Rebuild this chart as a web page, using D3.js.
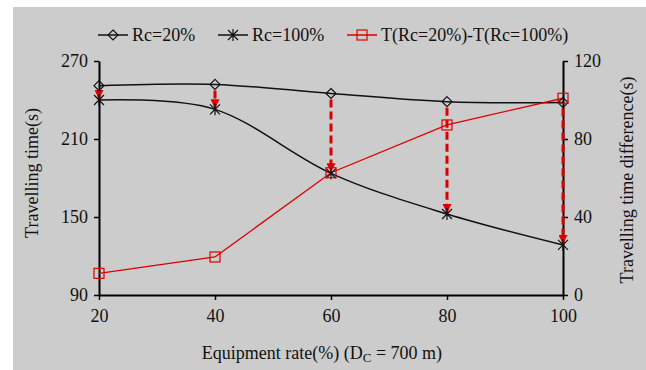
<!DOCTYPE html>
<html>
<head>
<meta charset="utf-8">
<script src="https://cdn.jsdelivr.net/npm/d3@7"></script>
<style>
  html, body { margin: 0; padding: 0; background: #fff; }
  svg { display: block; }
  svg text { font-family: "Liberation Serif", "Times New Roman", "DejaVu Serif", serif; }
</style>
</head>
<body>
<div id="chart"></div>
<script>
// data
const rates = [20, 40, 60, 80, 100];
const rc20 = [251, 252, 245, 238.7, 238];
const rc100 = [240, 232.8, 183.6, 152.3, 128.5];
const diff = [11.1, 19.5, 62.7, 87.2, 100.9];
const leftTicks = [90, 150, 210, 270];
const rightTicks = [0, 40, 80, 120];

const width = 646, height = 370;
const margin = { left: 99, right: 83, top: 61, bottom: 75 };
const red = "#dd0000";
const serif = '"Liberation Serif", "Times New Roman", serif';

const svg = d3.select("#chart").append("svg")
  .attr("width", width)
  .attr("height", height);

svg.append("rect")
  .attr("x", 13).attr("y", 7)
  .attr("width", width - 13).attr("height", height - 7)
  .attr("fill", "#cccccc");

const x = d3.scaleLinear().domain([20, 100]).range([margin.left, width - margin.right]);
const yL = d3.scaleLinear().domain([90, 270]).range([height - margin.bottom, margin.top]);
const yR = d3.scaleLinear().domain([0, 120]).range([height - margin.bottom, margin.top]);

function styleAxis(g) {
  g.selectAll(".domain").attr("stroke", "#000").attr("stroke-width", 2);
  g.selectAll(".tick line").attr("stroke", "#000").attr("stroke-width", 1.5);
  g.selectAll(".tick text")
    .attr("font-family", serif)
    .attr("font-size", "18px")
    .attr("fill", "#111");
}

const xAxis = svg.append("g")
  .attr("transform", `translate(0,${height - margin.bottom})`)
  .call(d3.axisBottom(x).tickValues(rates).tickSizeInner(5).tickSizeOuter(0).tickPadding(9));
styleAxis(xAxis);

const leftAxis = svg.append("g")
  .attr("transform", `translate(${margin.left},0)`)
  .call(d3.axisLeft(yL).tickValues(leftTicks).tickSizeInner(5).tickSizeOuter(0).tickPadding(6));
styleAxis(leftAxis);

const rightAxis = svg.append("g")
  .attr("transform", `translate(${width - margin.right},0)`)
  .call(d3.axisRight(yR).tickValues(rightTicks).tickSizeInner(5).tickSizeOuter(0).tickPadding(6));
styleAxis(rightAxis);

// axis titles
svg.append("text")
  .attr("transform", `translate(38,173) rotate(-90)`)
  .attr("text-anchor", "middle")
  .attr("font-family", serif)
  .attr("font-size", "18px")
  .attr("fill", "#111")
  .text("Travelling time(s)");

svg.append("text")
  .attr("transform", `translate(633,180) rotate(-90)`)
  .attr("text-anchor", "middle")
  .attr("font-family", serif)
  .attr("font-size", "18px")
  .attr("fill", "#111")
  .text("Travelling time difference(s)");

const xt = svg.append("text")
  .attr("x", 322).attr("y", 359)
  .attr("text-anchor", "middle")
  .attr("font-family", serif)
  .attr("font-size", "18px")
  .attr("fill", "#111");
xt.append("tspan").text("Equipment rate(%) (D");
xt.append("tspan").attr("font-size", "13px").attr("dy", 3).text("C");
xt.append("tspan").attr("dy", -3).text(" = 700 m)");

// lines
const smooth = d3.line().x((d, i) => x(rates[i])).curve(d3.curveCatmullRom.alpha(0));

svg.append("path")
  .attr("d", smooth.y(d => yL(d))(rc20))
  .attr("fill", "none").attr("stroke", "#111").attr("stroke-width", 1.5);

svg.append("path")
  .attr("d", smooth.y(d => yL(d))(rc100))
  .attr("fill", "none").attr("stroke", "#111").attr("stroke-width", 1.5);

svg.append("path")
  .attr("d", d3.line().x((d, i) => x(rates[i])).y(d => yR(d))(diff))
  .attr("fill", "none").attr("stroke", red).attr("stroke-width", 1.3);

// arrows
svg.append("defs").append("marker")
  .attr("id", "arrow")
  .attr("viewBox", "0 0 10 10")
  .attr("refX", 10).attr("refY", 5)
  .attr("markerWidth", 10).attr("markerHeight", 9)
  .attr("markerUnits", "userSpaceOnUse")
  .attr("orient", "auto")
  .append("path")
  .attr("d", "M0,0 L10,5 L0,10 Z")
  .attr("fill", red);

svg.selectAll("line.arrow")
  .data(rates)
  .join("line")
  .attr("class", "arrow")
  .attr("x1", d => x(d)).attr("x2", d => x(d))
  .attr("y1", (d, i) => yL(rc20[i]) + 6)
  .attr("y2", (d, i) => yL(rc100[i]) - 1)
  .attr("stroke", red)
  .attr("stroke-width", 3)
  .attr("stroke-dasharray", "8,4")
  .attr("marker-end", "url(#arrow)");

// markers
function diamond(g, cx, cy) {
  g.append("path")
    .attr("d", `M${cx},${cy - 5} L${cx + 5},${cy} L${cx},${cy + 5} L${cx - 5},${cy} Z`)
    .attr("fill", "none").attr("stroke", "#111").attr("stroke-width", 1.2);
}
function star(g, cx, cy) {
  g.append("path")
    .attr("d", `M${cx - 5},${cy - 5} L${cx + 5},${cy + 5} M${cx + 5},${cy - 5} L${cx - 5},${cy + 5} M${cx},${cy - 6} L${cx},${cy + 6}`)
    .attr("fill", "none").attr("stroke", "#111").attr("stroke-width", 1.2);
}
function square(g, cx, cy) {
  g.append("rect")
    .attr("x", cx - 5).attr("y", cy - 5).attr("width", 10).attr("height", 10)
    .attr("fill", "none").attr("stroke", red).attr("stroke-width", 1.2);
}

const marks = svg.append("g");
rates.forEach((r, i) => {
  diamond(marks, x(r), yL(rc20[i]));
  star(marks, x(r), yL(rc100[i]));
  square(marks, x(r), yR(diff[i]));
});

// legend
const legend = svg.append("g");
const items = [
  { label: "Rc=20%", x0: 98, color: "#111", mark: diamond },
  { label: "Rc=100%", x0: 218, color: "#111", mark: star },
  { label: "T(Rc=20%)-T(Rc=100%)", x0: 347, color: red, mark: square }
];
items.forEach(it => {
  legend.append("line")
    .attr("x1", it.x0).attr("x2", it.x0 + 30)
    .attr("y1", 35).attr("y2", 35)
    .attr("stroke", it.color).attr("stroke-width", 1.5);
  it.mark(legend, it.x0 + 15, 35);
  legend.append("text")
    .attr("x", it.x0 + 34).attr("y", 41)
    .attr("font-family", serif)
    .attr("font-size", "18px")
    .attr("fill", "#111")
    .text(it.label);
});
</script>
</body>
</html>
